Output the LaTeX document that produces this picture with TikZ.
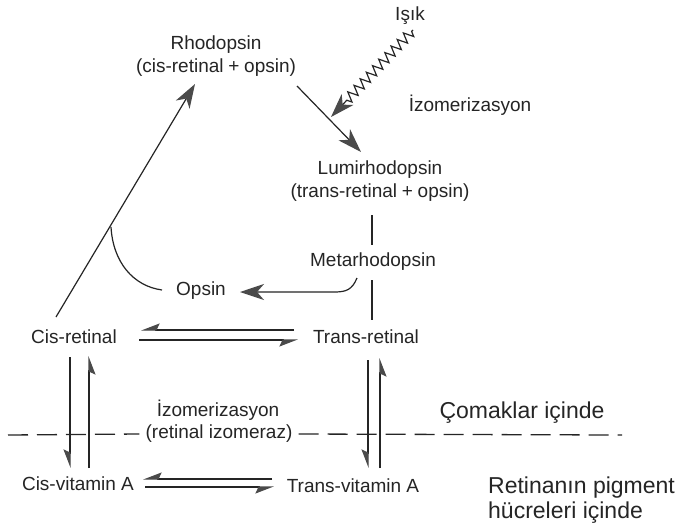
\documentclass[tikz,border=0pt]{standalone}
\usepackage{fontspec}
\setmainfont{Liberation Sans}
\usetikzlibrary{arrows.meta,decorations.pathmorphing}
\definecolor{ink}{HTML}{252525}
\definecolor{headgray}{HTML}{4A4A4A}
\newcommand{\pluss}{\hspace{0.25em}+\hspace{0.25em}}
\begin{document}
\begin{tikzpicture}[x=1pt,y=-1pt,
  lbl/.style={inner sep=0pt, text=ink, font=\fontsize{19}{23}\selectfont, align=center},
  biglbl/.style={inner sep=0pt, text=ink, font=\fontsize{23}{25}\selectfont, align=left},
  conn/.style={draw=ink, line width=1.2pt},
  bigarrow/.style={conn, -{Stealth[length=24pt,width=16pt,inset=7pt,color=headgray,fill=headgray]}},
  harp/.style={conn, -{Stealth[right,length=17pt,width=13pt,inset=3pt,color=headgray,fill=headgray]}},
  divider/.style={draw=ink, line width=1.3pt, dash pattern=on 20pt off 9pt}]
\fill[white] (0,0) rectangle (683,530);
\useasboundingbox (0,0) rectangle (683,530);

% labels
\node[lbl] (isik) at (410,16) {Işık};
\node[lbl] (rhod) at (216,56) {Rhodopsin\\(cis-retinal\pluss opsin)};
\node[lbl] (izo1) at (470,105) {İzomerizasyon};
\node[lbl] (lumi) at (380,181) {Lumirhodopsin\\(trans-retinal\pluss opsin)};
\node[lbl] (meta) at (373,262) {Metarhodopsin};
\node[lbl] (opsin) at (201,291) {Opsin};
\node[lbl] (cisret) at (74,337) {Cis-retinal};
\node[lbl] (transret) at (366,337) {Trans-retinal};
\node[lbl] (izo2) at (218,410) {İzomerizasyon};
\node[lbl, fill=white, inner xsep=6pt] (retiz) at (219,434) {(retinal izomeraz)};
\node[biglbl] (comak) at (522,413) {Çomaklar içinde};
\node[biglbl, anchor=west] (pig) at (488,500) {Retinanın pigment\\hücreleri içinde};
\node[lbl] (cisvit) at (78,484) {Cis-vitamin A};
\node[lbl] (transvit) at (353,486) {Trans-vitamin A};

% connector end points
\coordinate (lighttop) at (413,30);
\coordinate (lighttip) at (331,117);
\coordinate (r2l_a) at (297,86);
\coordinate (r2l_b) at (361,152);
\coordinate (long_a) at (56,317);
\coordinate (long_b) at (195,84);
\coordinate (arc_a) at (111,227);
\coordinate (arc_b) at (162,290);
\coordinate (op_a) at (357,278);
\coordinate (op_b) at (240,292);
\coordinate (lm_a) at (372,215);
\coordinate (lm_b) at (372,245);
\coordinate (mt_a) at (372,280);
\coordinate (mt_b) at (372,320);
\coordinate (rt_a) at (294,330);
\coordinate (rt_b) at (141,330);
\coordinate (rb_a) at (139,340);
\coordinate (rb_b) at (298,340);
\coordinate (vt_a) at (272,479);
\coordinate (vt_b) at (143,479);
\coordinate (vb_a) at (145,487);
\coordinate (vb_b) at (274,487);
\coordinate (cd_a) at (70,357);
\coordinate (cd_b) at (70,468);
\coordinate (cu_a) at (89,468);
\coordinate (cu_b) at (89,356);
\coordinate (td_a) at (368,360);
\coordinate (td_b) at (368,468);
\coordinate (tu_a) at (380,468);
\coordinate (tu_b) at (380,358);
\coordinate (dl) at (8,435);
\coordinate (dr) at (622,435);

% light
\draw[conn, -{Stealth[length=24pt,width=16pt,inset=7pt,color=headgray,fill=headgray]},
  decorate, decoration={zigzag, segment length=9pt, amplitude=5pt, pre length=2pt, post=lineto, post length=22pt}]
  (lighttop) -- (lighttip);

% main arrows
\draw[bigarrow] (r2l_a) -- (r2l_b);
\draw[bigarrow] (long_a) -- (long_b);
\draw[conn] (arc_a) .. controls (113,262) and (133,286) .. (arc_b);
\draw[bigarrow] (op_a) .. controls (352,290) and (346,292) .. (334,292) -- (op_b);
\draw[conn] (lm_a) -- (lm_b);
\draw[conn] (mt_a) -- (mt_b);

% equilibria
\draw[harp] (rt_a) -- (rt_b);
\draw[harp] (rb_a) -- (rb_b);
\draw[harp] (vt_a) -- (vt_b);
\draw[harp] (vb_a) -- (vb_b);
\draw[harp] (cd_a) -- (cd_b);
\draw[harp] (cu_a) -- (cu_b);
\draw[harp] (td_a) -- (td_b);
\draw[harp] (tu_a) -- (tu_b);

% divider
\draw[divider] (dl) -- (retiz.west);
\draw[divider] (retiz.east) -- (dr);
\end{tikzpicture}
\end{document}
